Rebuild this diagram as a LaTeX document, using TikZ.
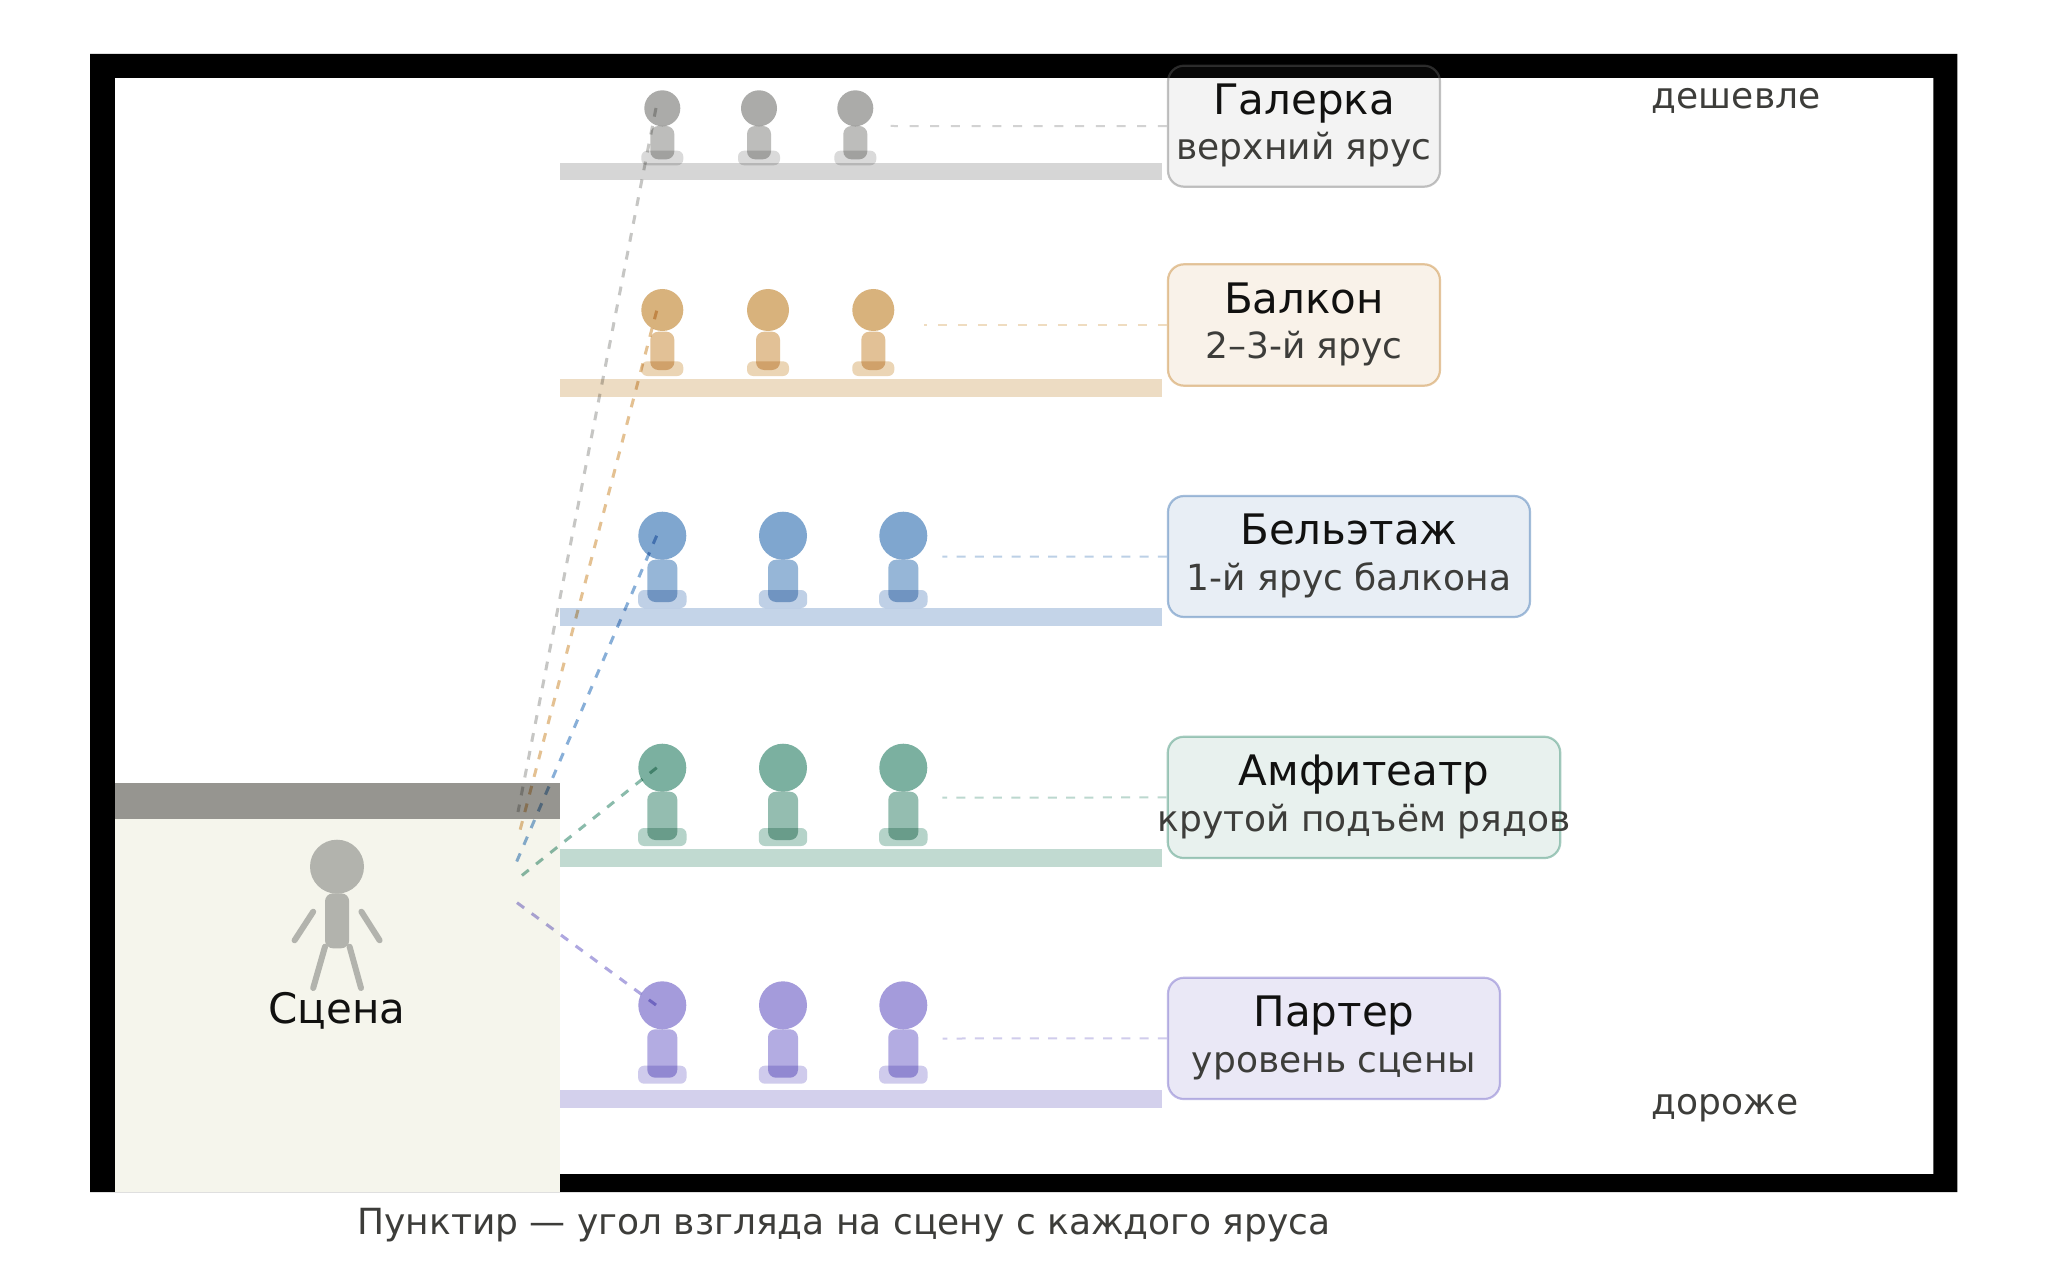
\documentclass[tikz,border=0pt]{standalone}
\usepackage{fontspec}
\setmainfont{DejaVu Sans}
\usetikzlibrary{calc}
\definecolor{frameblack}{HTML}{000000}
\definecolor{stagefill}{HTML}{F5F5EC}
\definecolor{stageband}{HTML}{969590}
\definecolor{actor}{HTML}{B2B3AD}
\definecolor{titleink}{HTML}{111110}
\definecolor{subink}{HTML}{3D3D3A}
% tier colours: head, body, seat, shelf, sight line, leader, box base
\definecolor{gHead}{HTML}{ABABA9}\definecolor{gBody}{HTML}{BDBDBB}\definecolor{gSeat}{HTML}{DADADA}\definecolor{gShelf}{HTML}{D6D6D6}\definecolor{gSight}{HTML}{C6C6C4}\definecolor{gLead}{HTML}{D2D2D2}\definecolor{gBase}{HTML}{676767}
\definecolor{oHead}{HTML}{D8B27C}\definecolor{oBody}{HTML}{E2C196}\definecolor{oSeat}{HTML}{EBD5B5}\definecolor{oShelf}{HTML}{EDDCC3}\definecolor{oSight}{HTML}{E4C192}\definecolor{oLead}{HTML}{EFDCC0}\definecolor{oBase}{HTML}{BE7311}
\definecolor{bHead}{HTML}{7FA6CF}\definecolor{bBody}{HTML}{96B6D7}\definecolor{bSeat}{HTML}{BFD0E6}\definecolor{bShelf}{HTML}{C4D4E8}\definecolor{bSight}{HTML}{88AFD8}\definecolor{bLead}{HTML}{BCD0E6}\definecolor{bBase}{HTML}{1E5DA5}
\definecolor{tHead}{HTML}{7BB0A0}\definecolor{tBody}{HTML}{94BDB0}\definecolor{tSeat}{HTML}{B5D3C9}\definecolor{tShelf}{HTML}{C1DAD1}\definecolor{tSight}{HTML}{8ABBAB}\definecolor{tLead}{HTML}{BCD8CF}\definecolor{tBase}{HTML}{1E7F5F}
\definecolor{pHead}{HTML}{A49BDB}\definecolor{pBody}{HTML}{B3ACE2}\definecolor{pSeat}{HTML}{CFCBEC}\definecolor{pShelf}{HTML}{D3D0EC}\definecolor{pSight}{HTML}{AEA7E0}\definecolor{pLead}{HTML}{D0CCEC}\definecolor{pBase}{HTML}{5F50C1}
\tikzset{
  headnode/.style={circle,inner sep=0pt,minimum size=#1,fill},
  tierbox/.style={rectangle,rounded corners=16pt,line width=2.2pt,inner sep=0pt,
    draw=#1Base,fill=#1Base,draw opacity=.4,fill opacity=.1,text opacity=1},
  titletext/.style={anchor=base,inner sep=0pt,text=titleink,font=\fontsize{42}{50}\selectfont},
  subtext/.style={anchor=base,inner sep=0pt,text=subink,font=\fontsize{36}{44}\selectfont},
  sightline/.style={line width=3pt,dash pattern=on 8.8pt off 9.4pt},
  leaderline/.style={line width=2pt},
  limb/.style={line width=6pt,line cap=round,draw=actor},
}
\newcommand{\seated}[6]{%
  \node[headnode=#4*2pt,fill=#1Head] (#1head#2) at (#3,\hY) {};
  \fill[#1Body,rounded corners=8pt] ({#3-\bH},\bT) rectangle ({#3+\bH},\bB);
  \fill[#1Seat,rounded corners=6pt] ({#3-\sH},\sT) rectangle ({#3+\sH},\sB);
}
\begin{document}
\begin{tikzpicture}[x=1pt,y=-1pt]
\useasboundingbox (0,0) rectangle (2048,1273);
\fill[white] (0,0) rectangle (2048,1273);
% frame
\fill[frameblack,even odd rule] (90,54) rectangle (1957.3,1192) (114.8,78) rectangle (1933.3,1174);
% stage
\fill[stagefill] (114.8,818.7) rectangle (560,1192);
\fill[stageband] (114.8,782.7) rectangle (560,818.7);
% actor
\node[circle,fill=actor,inner sep=0pt,minimum width=54pt,minimum height=54pt] (actorhead) at (337,866.7) {};
\fill[actor,rounded corners=8pt] (325,893.3) rectangle (349.2,948.3);
\draw[limb] (313.2,911.7) -- (294.6,940.3);
\draw[limb] (361.4,911.7) -- (379.6,940.3);
\draw[limb] (325,946.7) -- (313.2,988);
\draw[limb] (349.6,946.7) -- (361,988);
\node[titletext] (stagelabel) at (337,1023) {Сцена};
\begin{scope}[blend mode=multiply]
% shelves
\fill[gShelf] (560,162.7) rectangle (1162.3,180.3);
\fill[oShelf] (560,379.3) rectangle (1162.3,397.3);
\fill[bShelf] (560,608) rectangle (1162.3,626);
\fill[tShelf] (560,849) rectangle (1162.3,867);
\fill[pShelf] (560,1090) rectangle (1162.3,1107.7);
% galerka
\def\hY{108.3}\def\bT{126}\def\bB{159.3}\def\bH{12}\def\sT{150.7}\def\sB{165.3}\def\sH{21}
\seated{g}{1}{662.3}{18}{}{}\seated{g}{2}{759}{18}{}{}\seated{g}{3}{855.3}{18}{}{}
% balcony
\def\hY{310}\def\bT{331.7}\def\bB{370}\def\bH{12}\def\sT{361.3}\def\sB{376}\def\sH{21}
\seated{o}{1}{662.3}{21}{}{}\seated{o}{2}{768}{21}{}{}\seated{o}{3}{873.3}{21}{}{}
% beletage
\def\hY{535.7}\def\bT{559.7}\def\bB{602}\def\bH{15}\def\sT{590}\def\sB{608}\def\sH{24.2}
\seated{b}{1}{662.3}{24}{}{}\seated{b}{2}{783}{24}{}{}\seated{b}{3}{903.3}{24}{}{}
% amphitheatre
\def\hY{767.7}\def\bT{791.7}\def\bB{840}\def\bH{15}\def\sT{828}\def\sB{846}\def\sH{24.2}
\seated{t}{1}{662.3}{24}{}{}\seated{t}{2}{783}{24}{}{}\seated{t}{3}{903.3}{24}{}{}
% parterre
\def\hY{1005.3}\def\bT{1029.3}\def\bB{1077.7}\def\bH{15}\def\sT{1065.7}\def\sB{1083.7}\def\sH{24.2}
\seated{p}{1}{662.3}{24}{}{}\seated{p}{2}{783}{24}{}{}\seated{p}{3}{903.3}{24}{}{}
% sight lines
\coordinate (gEye) at (656,108); \coordinate (gStage) at (518,812);
\coordinate (oEye) at (656.7,310.7); \coordinate (oStage) at (518,838);
\coordinate (bEye) at (656.7,535.7); \coordinate (bStage) at (516.5,862);
\coordinate (tEye) at (656.7,767.7); \coordinate (tStage) at (520,877);
\coordinate (pEye) at (656,1005); \coordinate (pStage) at (516.5,902.3);
\draw[sightline,gSight] (gEye) -- (gStage);
\draw[sightline,oSight] (oEye) -- (oStage);
\draw[sightline,bSight] (bEye) -- (bStage);
\draw[sightline,tSight] (tEye) -- (tStage);
\draw[sightline,pSight] (pEye) -- (pStage);
\end{scope}
% tier boxes
\node[tierbox=g,fill opacity=.08,minimum width=272pt,minimum height=121pt] (gBox) at (1304,126.2) {};
\node[tierbox=o,fill opacity=.09,minimum width=272pt,minimum height=121.4pt] (oBox) at (1304,325) {};
\node[tierbox=b,minimum width=362pt,minimum height=121pt] (bBox) at (1349,556.5) {};
\node[tierbox=t,minimum width=392.5pt,minimum height=121.3pt] (tBox) at (1364,797.4) {};
\node[tierbox=p,fill opacity=.13,minimum width=332pt,minimum height=121.3pt] (pBox) at (1334,1038.4) {};
% leaders
\coordinate (gFree) at (890.7,126); \coordinate (oFree) at (924,325);
\coordinate (bFree) at (942.3,556.7); \coordinate (tFree) at (942.3,797.7); \coordinate (pFree) at (942.7,1038.5);
\draw[leaderline,gLead,dash pattern=on 9pt off 11.7pt] (gBox.west) -- (gFree);
\draw[leaderline,oLead,dash pattern=on 9pt off 11pt] (oBox.west) -- (oFree);
\draw[leaderline,bLead,dash pattern=on 9pt off 9.3pt] (bBox.west) -- (bFree);
\draw[leaderline,tLead,dash pattern=on 9pt off 9.3pt] (tBox.west) -- (tFree);
\draw[leaderline,pLead,dash pattern=on 9pt off 9.3pt] (pBox.west) -- (pFree);
% labels
\node[titletext] (gT) at (1304,114.8) {Галерка};
\node[subtext] (gS) at (1304,159.5) {верхний ярус};
\node[titletext] (oT) at (1304,313.2) {Балкон};
\node[subtext] (oS) at (1304,358.3) {2–3-й ярус};
\node[titletext] (bT) at (1349,544.8) {Бельэтаж};
\node[subtext] (bS) at (1349,590) {1-й ярус балкона};
\node[titletext] (tT) at (1364,785.4) {Амфитеатр};
\node[subtext] (tS) at (1364,831) {крутой подъём рядов};
\node[titletext] (pT) at (1334,1026) {Партер};
\node[subtext] (pS) at (1334,1072) {уровень сцены};
\node[subtext,anchor=base west] (cheap) at (1651.7,108.3) {дешевле};
\node[subtext,anchor=base west] (dear) at (1651.7,1114) {дороже};
\node[subtext] (caption) at (844,1234) {Пунктир — угол взгляда на сцену с каждого яруса};
\end{tikzpicture}
\end{document}
